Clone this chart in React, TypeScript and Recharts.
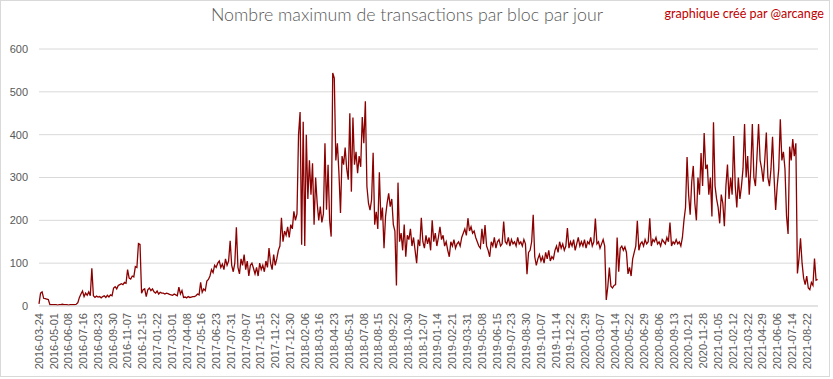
import React from 'react';
import { LineChart, Line, XAxis, YAxis, CartesianGrid } from 'recharts';

const START_DATE = '2016-03-24';
const STEP_DAYS = 4;

const tx2016 = [
  5, 30, 33, 18, 17, 16, 15, 3, 3, 3,
  3, 3, 2, 3, 3, 4, 3, 3, 3, 2,
  3, 3, 3, 3, 4, 8, 20, 28, 35, 22,
  30, 25, 33, 24, 88, 24, 20, 23, 21, 22,
  19, 22, 24, 20, 25, 21, 26, 24, 42, 45,
  40, 48, 50, 52, 50, 55, 53, 85, 65, 63,
  70, 68, 92, 90, 146, 144, 30, 38, 40, 22,
  38,
];
const tx2017 = [
  42, 36, 40, 33, 30, 35, 28, 32, 30,
  30, 28, 30, 29, 27, 26, 25, 28, 26, 24,
  44, 28, 36, 20, 21, 19, 22, 20, 21, 22,
  22, 24, 28, 26, 55, 32, 40, 36, 58, 62,
  70, 85, 78, 95, 90, 100, 105, 90, 98, 85,
  110, 95, 105, 152, 95, 80, 100, 184, 90, 75,
  110, 95, 120, 85, 105, 70, 95, 100, 88, 75,
  90, 70, 100, 85, 95, 80, 105, 90, 135, 100,
  85, 120, 95, 110, 130, 140, 206, 150, 175, 165,
  185, 160,
];
const tx2018 = [
  190, 180, 221, 200, 215, 400, 453, 143,
  430, 140, 400, 250, 340, 260, 333, 190, 300, 240,
  200, 232, 195, 215, 380, 225, 330, 200, 162, 544,
  532, 340, 380, 310, 217, 350, 330, 370, 320, 295,
  450, 267, 440, 330, 360, 310, 350, 325, 441, 380,
  478, 279, 240, 224, 248, 358, 190, 220, 180, 312,
  200, 230, 135, 210, 240, 263, 232, 250, 190, 175,
  48, 288, 150, 170, 130, 190, 115, 165, 155, 180,
  140, 160, 130, 100, 155, 140, 206, 150, 135, 165,
  145, 160, 130, 200,
];
const tx2019 = [
  150, 170, 140, 160, 185, 155,
  165, 140, 150, 130, 115, 150, 140, 155, 135, 145,
  150, 140, 160, 170, 180, 165, 205, 175, 185, 170,
  175, 160, 150, 140, 135, 180, 145, 189, 140, 130,
  115, 150, 140, 160, 135, 150, 155, 140, 145, 197,
  150, 145, 160, 140, 155, 145, 150, 140, 160, 145,
  150, 140, 155, 145, 74, 125, 130, 150, 213, 115,
  95, 110, 120, 105, 115, 100, 125, 110, 130, 105,
  115, 110, 130, 140, 125, 150, 135, 145, 130, 140,
  182, 135, 150, 140, 155,
];
const tx2020 = [
  130, 145, 160, 140, 150,
  140, 155, 135, 150, 145, 160, 140, 150, 204, 145,
  150, 135, 145, 155, 140, 14, 45, 90, 46, 42,
  48, 50, 160, 80, 135, 140, 130, 138, 125, 75,
  90, 70, 110, 125, 140, 199, 130, 145, 150, 140,
  155, 145, 150, 205, 140, 155, 150, 160, 145, 150,
  140, 155, 150, 145, 160, 150, 195, 140, 150, 145,
  155, 145, 150, 140, 160, 200, 230, 348, 260, 213,
  290, 327, 240, 200, 300, 260, 357, 280, 404, 320,
  330, 260, 300, 209, 429, 280,
];
const tx2021 = [
  250, 230, 193, 260,
  240, 186, 280, 330, 250, 300, 260, 397, 280, 230,
  300, 250, 280, 320, 425, 300, 350, 260, 320, 425,
  300, 280, 350, 425, 340, 320, 290, 340, 405, 300,
  280, 320, 395, 300, 224, 280, 320, 436, 340, 360,
  320, 210, 168, 372, 340, 390, 350, 380, 76, 110,
  158, 100, 65, 50, 70, 42, 38, 55, 48, 111,
  60, 62,
];

const tickLabels = [
  '2016-03-24', '2016-05-01', '2016-06-08', '2016-07-16', '2016-08-23', '2016-09-30',
  '2016-11-07', '2016-12-15', '2017-01-22', '2017-03-01', '2017-04-08', '2017-05-16',
  '2017-06-23', '2017-07-31', '2017-09-07', '2017-10-15', '2017-11-22', '2017-12-30',
  '2018-02-06', '2018-03-16', '2018-04-23', '2018-05-31', '2018-07-08', '2018-08-15',
  '2018-09-22', '2018-10-30', '2018-12-07', '2019-01-14', '2019-02-21', '2019-03-31',
  '2019-05-08', '2019-06-15', '2019-07-23', '2019-08-30', '2019-10-07', '2019-11-14',
  '2019-12-22', '2020-01-29', '2020-03-07', '2020-04-14', '2020-05-22', '2020-06-29',
  '2020-08-06', '2020-09-13', '2020-10-21', '2020-11-28', '2021-01-05', '2021-02-12',
  '2021-03-22', '2021-04-29', '2021-06-06', '2021-07-14', '2021-08-22',
];
const yTicks = [0, 100, 200, 300, 400, 500, 600];

const TITLE = 'Nombre maximum de transactions par bloc par jour';
const CREDIT = 'graphique créé par @arcange';

const DAY_MS = 86400000;
const startMs = Date.parse(START_DATE);
const dayOf = (s: string) => Math.round((Date.parse(s) - startMs) / DAY_MS);
const xTicks = tickLabels.map(dayOf);
const labelByDay = new Map<number, string>(tickLabels.map((l) => [dayOf(l), l]));

const allValues = [...tx2016, ...tx2017, ...tx2018, ...tx2019, ...tx2020, ...tx2021];
const data = allValues.map((v, i) => ({ day: i * STEP_DAYS, tx: v }));
const lastDay = (allValues.length - 1) * STEP_DAYS;

const AXIS_TEXT = '#595959';
const FONT = '"Liberation Sans", Arial, sans-serif';

const XTick = (props: any) => {
  const { x, y, payload } = props;
  return (
    <text
      x={0}
      y={0}
      transform={`translate(${x},${y}) rotate(-90)`}
      textAnchor="end"
      dx={-7}
      dy="0.35em"
      fontSize={11}
      fontFamily={FONT}
      fill={AXIS_TEXT}
    >
      {labelByDay.get(payload.value) ?? ''}
    </text>
  );
};

export default function App() {
  return (
    <div style={{ position: 'absolute', left: 0, top: 0, width: 833, height: 379, background: '#fff' }}>
      <div
        style={{
          position: 'absolute', left: 0, top: 0, width: 830, height: 377,
          boxSizing: 'border-box', border: '1px solid #d9d9d9',
        }}
      />
      <LineChart
        width={833}
        height={379}
        data={data}
        margin={{ top: 49, right: 15, bottom: 13, left: 0 }}
      >
        <CartesianGrid vertical={false} stroke="#d9d9d9" strokeWidth={1} />
        <XAxis
          dataKey="day"
          type="number"
          domain={[0, lastDay + 1]}
          ticks={xTicks}
          interval={0}
          height={60}
          tickLine={false}
          tickSize={0}
          tickMargin={0}
          axisLine={{ stroke: '#d9d9d9' }}
          tick={<XTick />}
        />
        <YAxis
          type="number"
          domain={[0, 600]}
          ticks={yTicks}
          width={39}
          tickLine={false}
          axisLine={false}
          tickSize={0}
          tickMargin={11}
          tick={{ fontSize: 11, fontFamily: FONT, fill: AXIS_TEXT }}
        />
        <Line
          type="linear"
          dataKey="tx"
          stroke="#8B0000"
          strokeWidth={1.3}
          dot={false}
          isAnimationActive={false}
        />
      </LineChart>
      <svg
        width={833}
        height={379}
        style={{ position: 'absolute', left: 0, top: 0, pointerEvents: 'none' }}
      >
        <text x={407} y={21} textAnchor="middle" fontSize={17.8} fontWeight={300} fontFamily="Lato, sans-serif" fill={AXIS_TEXT}>
          {TITLE}
        </text>
        <text x={824} y={18} textAnchor="end" fontSize={12.6} fontFamily="Lato, sans-serif" fill="#c00000">
          {CREDIT}
        </text>
      </svg>
    </div>
  );
}
